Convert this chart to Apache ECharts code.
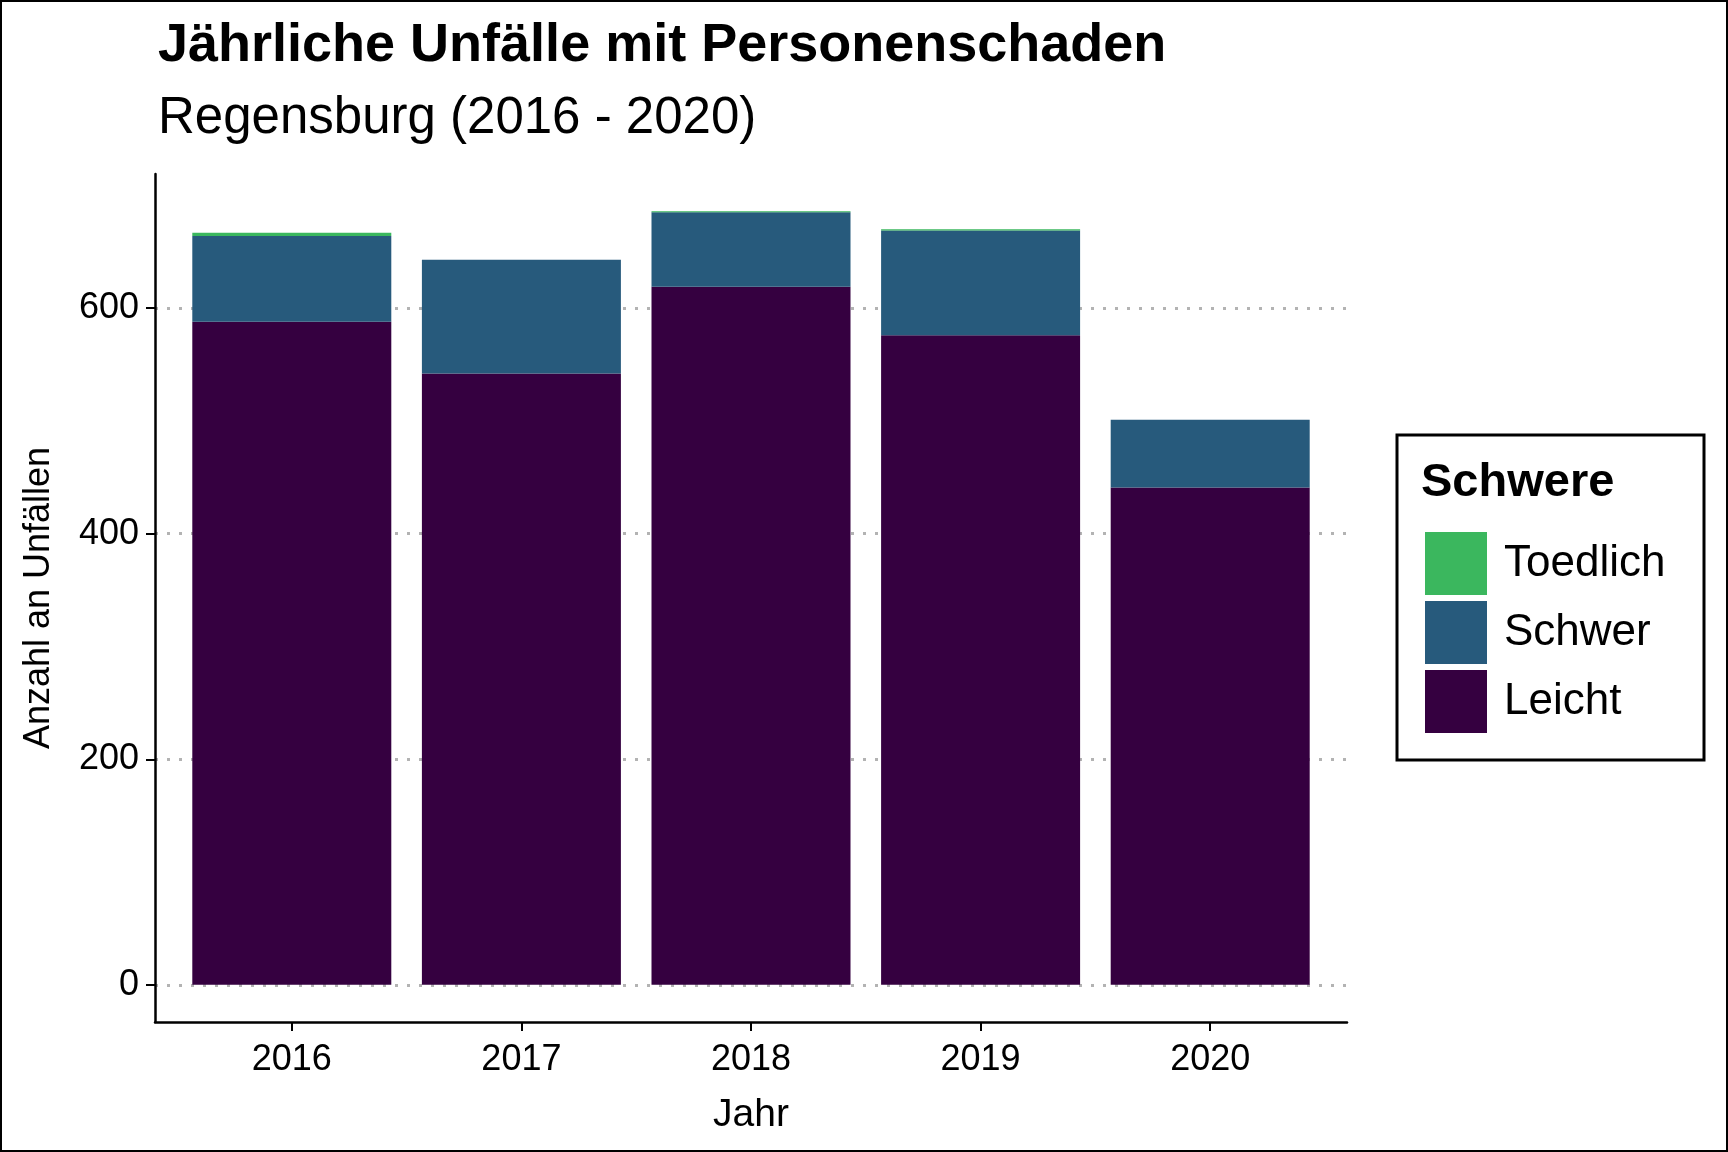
<!DOCTYPE html>
<html>
<head>
<meta charset="utf-8">
<title>Unfaelle</title>
<script src="https://cdn.jsdelivr.net/npm/echarts@6/dist/echarts.min.js"></script>
<style>html,body{margin:0;padding:0;background:#fff}#main{width:1728px;height:1152px}</style>
</head>
<body>
<div id="main"></div>
<script>
var years = ['2016', '2017', '2018', '2019', '2020'];
var leicht = [588, 542, 619, 576, 441];
var schwer = [76, 101, 66, 93, 60];
var toedlich = [3, 0, 1, 1, 0];
var yTicks = [0, 200, 400, 600];

var font = 'Liberation Sans, Arial, sans-serif';
function barSeries(name, vals, color) {
  return {
    name: name, type: 'bar', stack: 'total', barWidth: 199, z: 3,
    xAxisIndex: 0, yAxisIndex: 0,
    itemStyle: { color: color }, data: vals
  };
}

var chart = echarts.init(document.getElementById('main'));
chart.setOption({
  animation: false,
  textStyle: { fontFamily: font },
  title: [{
    text: 'Jährliche Unfälle mit Personenschaden', left: 153, top: 14,
    textStyle: { fontSize: 54, fontWeight: 'bold', color: '#000', fontFamily: font }
  }, {
    text: 'Regensburg (2016 - 2020)', left: 153, top: 88,
    textStyle: { fontSize: 51, fontWeight: 'normal', color: '#000', fontFamily: font }
  }],
  grid: [
    { left: 177, right: 403, top: 174, bottom: 130 },
    { left: 155, right: 381, top: 174, bottom: 130 },
    { left: 155, right: 381, top: 308, bottom: 167 }
  ],
  xAxis: [{
    type: 'category', gridIndex: 0, data: years,
    name: 'Jahr', nameLocation: 'middle', nameGap: 74,
    nameTextStyle: { fontSize: 39, color: '#000' },
    axisLine: { show: false, onZero: false },
    axisTick: { show: true, alignWithLabel: true, length: 9, lineStyle: { color: '#000', width: 2 } },
    axisLabel: { fontSize: 36, color: '#000', margin: 20 },
    splitLine: { show: false }
  }, {
    type: 'value', gridIndex: 1, min: 0, max: 1,
    axisLine: { show: true, onZero: false, lineStyle: { color: '#000', width: 2.5 } },
    axisTick: { show: false }, axisLabel: { show: false }, splitLine: { show: false }
  }, {
    type: 'value', gridIndex: 2, min: 0, max: 1, show: false
  }],
  yAxis: [{
    type: 'value', gridIndex: 0, min: -33, max: 719, show: false
  }, {
    type: 'value', gridIndex: 1, min: -33, max: 719,
    name: 'Anzahl an Unfällen', nameLocation: 'middle', nameGap: 98,
    nameTextStyle: { fontSize: 36, color: '#000' },
    axisLine: { show: true, onZero: false, lineStyle: { color: '#000', width: 2.5 } },
    axisTick: { show: true, length: 9, customValues: yTicks, lineStyle: { color: '#000', width: 2 } },
    axisLabel: { customValues: yTicks, fontSize: 36, color: '#000', margin: 16 },
    splitLine: { show: false }
  }, {
    type: 'value', gridIndex: 2, min: 0, max: 600, interval: 200,
    axisLine: { show: false }, axisTick: { show: false }, axisLabel: { show: false },
    splitLine: { show: true, lineStyle: { color: '#b3b3b3', type: [3, 9], width: 3 } }
  }],
  legend: {
    orient: 'vertical', left: 1420, top: 527,
    itemWidth: 62, itemHeight: 63, itemGap: 6,
    data: ['Toedlich', 'Schwer', 'Leicht'],
    textStyle: { fontSize: 44, color: '#000', padding: [0, 0, 0, 12] },
    icon: 'rect'
  },
  graphic: [
    { type: 'rect', shape: { x: 1, y: 1, width: 1726, height: 1150 }, style: { fill: 'none', stroke: '#000', lineWidth: 2 }, silent: true },
    { type: 'rect', shape: { x: 1397, y: 435, width: 307, height: 325 }, style: { fill: 'none', stroke: '#000', lineWidth: 3 }, silent: true },
    { type: 'text', left: 1421, top: 460, style: { text: 'Schwere', font: 'bold 47px ' + font, fill: '#000' } }
  ],
  series: [
    barSeries('Leicht', leicht, '#350040'),
    barSeries('Schwer', schwer, '#275a7c'),
    barSeries('Toedlich', toedlich, '#3bb75e')
  ]
});
</script>
</body>
</html>
